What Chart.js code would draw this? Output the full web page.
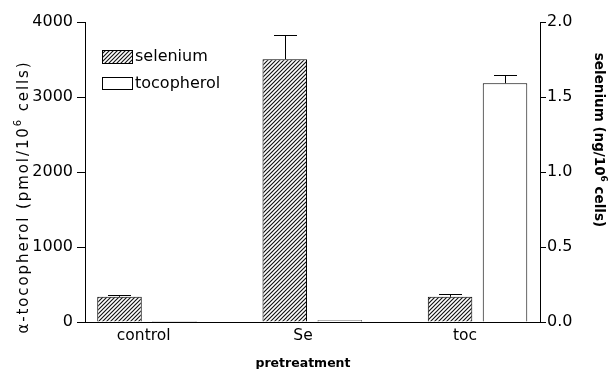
<!DOCTYPE html>
<html>
<head>
<meta charset="utf-8">
<script src="https://cdn.jsdelivr.net/npm/chart.js@4.4.1/dist/chart.umd.min.js"></script>
<style>
  html, body { margin: 0; padding: 0; background: #fff; }
  canvas { display: block; }
</style>
</head>
<body>
<canvas id="chart" width="613" height="369"></canvas>
<script>
// values
const categories = ['control', 'Se', 'toc'];
const seleniumVals = [0.168, 1.752, 0.168];      // ng/10^6 cells (right axis)
const seleniumErr = [0.015, 0.16, 0.017];
const tocopherolVals = [15, 25, 3184];           // pmol/10^6 cells (left axis)
const tocopherolErr = [0, 0, 106];
const leftTicks = [0, 1000, 2000, 3000, 4000];
const rightTicks = [0, 0.5, 1.0, 1.5, 2.0];

const FONT = 'DejaVu Sans';

function makeHatch() {
    const c = document.createElement('canvas');
    c.width = 4; c.height = 4;
    const g = c.getContext('2d');
    g.fillStyle = '#fff';
    g.fillRect(0, 0, 4, 4);
    g.strokeStyle = '#111';
    g.lineWidth = 1.15;
    g.beginPath();
    g.moveTo(-1, 5); g.lineTo(5, -1);
    g.moveTo(-1, 1); g.lineTo(1, -1);
    g.moveTo(3, 5); g.lineTo(5, 3);
    g.stroke();
    return g.createPattern(c, 'repeat');
}

// draws text with a raised "6" (base, sup, rest), centred on 0,0
function drawSupText(g, base, sup, rest, size, weight, spacing) {
    g.letterSpacing = spacing;
    g.font = weight + size + 'px "' + FONT + '"';
    const w1 = g.measureText(base).width;
    const w3 = g.measureText(rest).width;
    g.font = weight + Math.round(size * 0.65) + 'px "' + FONT + '"';
    const w2 = g.measureText(sup).width;
    let x = -(w1 + w2 + w3) / 2;
    g.textAlign = 'left';
    g.textBaseline = 'middle';
    g.font = weight + size + 'px "' + FONT + '"';
    g.fillText(base, x, 0);
    x += w1;
    g.font = weight + Math.round(size * 0.65) + 'px "' + FONT + '"';
    g.fillText(sup, x, -size * 0.38);
    x += w2;
    g.font = weight + size + 'px "' + FONT + '"';
    g.fillText(rest, x, 0);
}

const ctx = document.getElementById('chart').getContext('2d');
const hatch = makeHatch();

// error bars (upper only) + titles + legend
const extras = {
    id: 'extras',
    afterDatasetsDraw(chart) {
        const g = chart.ctx;
        const errs = [seleniumErr, tocopherolErr];
        g.save();
        g.strokeStyle = '#000';
        g.lineWidth = 1;
        chart.data.datasets.forEach((ds, di) => {
            const meta = chart.getDatasetMeta(di);
            const scale = chart.scales[ds.yAxisID];
            meta.data.forEach((bar, i) => {
                const e = errs[di][i];
                if (!e) return;
                const top = Math.round(scale.getPixelForValue(ds.data[i].y + e)) + 0.5;
                const x = Math.round(bar.x) + 0.5;
                g.beginPath();
                g.moveTo(x, bar.y);
                g.lineTo(x, top);
                g.moveTo(x - 11.5, top);
                g.lineTo(x + 11.5, top);
                g.stroke();
            });
        });
        g.restore();
    },
    afterDraw(chart) {
        const g = chart.ctx;
        g.save();
        g.fillStyle = '#000';

        // left axis title
        g.save();
        g.translate(24, 197);
        g.rotate(-Math.PI / 2);
        drawSupText(g, '\u03b1-tocopherol (pmol/10', '6', ' cells)', 15, '', '1.9px');
        g.restore();

        // right axis title
        g.save();
        g.translate(598, 140);
        g.rotate(Math.PI / 2);
        drawSupText(g, 'selenium (ng/10', '6', ' cells)', 13.5, 'bold ', '0px');
        g.restore();

        // x axis title
        g.letterSpacing = '0px';
        g.font = 'bold 12.5px "' + FONT + '"';
        g.textAlign = 'center';
        g.textBaseline = 'alphabetic';
        g.fillText('pretreatment', 303, 366.5);

        // legend
        const items = [
            { label: chart.data.datasets[0].label, fill: hatch, y: 50, h: 13 },
            { label: chart.data.datasets[1].label, fill: '#fff', y: 77, h: 12 }
        ];
        g.font = '16px "' + FONT + '"';
        g.textAlign = 'left';
        g.textBaseline = 'middle';
        g.lineWidth = 1;
        g.strokeStyle = '#000';
        for (const it of items) {
            g.fillStyle = it.fill;
            g.fillRect(102, it.y, 31, it.h);
            g.strokeRect(102.5, it.y + 0.5, 30, it.h);
            g.fillStyle = '#000';
            g.fillText(it.label, 135, it.y + it.h / 2 + 0.5);
        }
        g.restore();
    }
};

new Chart(ctx, {
    type: 'bar',
    data: {
        datasets: [
            {
                label: 'selenium',
                data: seleniumVals.map((v, i) => ({ x: i, y: v })),
                yAxisID: 'yR',
                backgroundColor: hatch,
                borderColor: '#000',
                borderWidth: 1,
                categoryPercentage: 0.69,
                barPercentage: 0.81
            },
            {
                label: 'tocopherol',
                data: tocopherolVals.map((v, i) => ({ x: i, y: v })),
                yAxisID: 'y',
                backgroundColor: '#fff',
                borderColor: '#000',
                borderWidth: 1,
                categoryPercentage: 0.69,
                barPercentage: 0.81
            }
        ]
    },
    options: {
        responsive: false,
        animation: false,
        devicePixelRatio: 1,
        layout: { padding: { top: 22 } },
        plugins: {
            legend: { display: false },
            tooltip: { enabled: false }
        },
        scales: {
            x: {
                type: 'linear',
                offset: false,
                min: -0.375,
                max: 2.378,
                afterBuildTicks: (s) => { s.ticks = [-0.02, 0.944, 1.924].map(v => ({ value: v })); },
                afterFit: (s) => { s.height = 47; },
                ticks: {
                    callback: (v, i) => categories[i],
                    autoSkip: false,
                    maxRotation: 0,
                    padding: 5,
                    color: '#000',
                    font: { family: FONT, size: 15.5 }
                },
                grid: { display: false, drawTicks: false },
                border: { display: true, color: '#000', width: 1 }
            },
            y: {
                type: 'linear',
                position: 'left',
                min: 0,
                max: 4000,
                afterBuildTicks: (s) => { s.ticks = leftTicks.map(v => ({ value: v })); },
                afterFit: (s) => { s.width = 85; },
                ticks: {
                    callback: (v) => String(v),
                    padding: 4,
                    color: '#000',
                    font: { family: FONT, size: 16 }
                },
                grid: { drawOnChartArea: false, drawTicks: true, tickLength: 8, color: '#000' },
                border: { display: true, color: '#000', width: 1 }
            },
            yR: {
                type: 'linear',
                position: 'right',
                min: 0,
                max: 2,
                afterBuildTicks: (s) => { s.ticks = rightTicks.map(v => ({ value: v })); },
                afterFit: (s) => { s.width = 73; },
                ticks: {
                    callback: (v) => v.toFixed(1),
                    padding: 1,
                    color: '#000',
                    font: { family: FONT, size: 16 }
                },
                grid: { drawOnChartArea: false, drawTicks: true, tickLength: 6, color: '#000' },
                border: { display: true, color: '#000', width: 1 }
            }
        }
    },
    plugins: [extras]
});
</script>
</body>
</html>
